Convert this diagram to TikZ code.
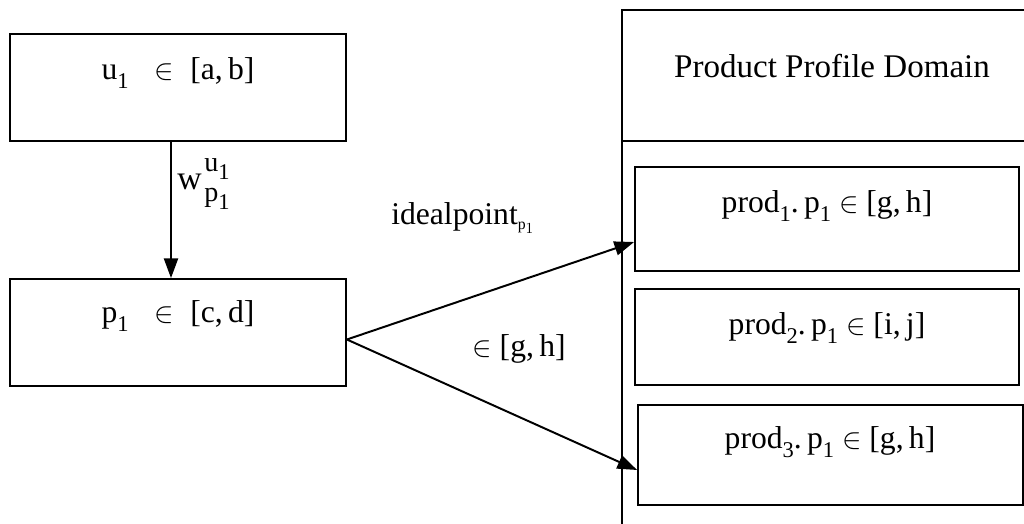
\documentclass[tikz,border=0pt]{standalone}
\usepackage{fontspec}
\setmainfont{Liberation Serif}
\usetikzlibrary{arrows.meta}
% lowered index set a little larger than \textsubscript
\newcommand{\idx}[1]{\raisebox{-0.28em}{\fontsize{16}{18}\selectfont #1}}
\begin{document}
\begin{tikzpicture}[x=0.025cm,y=-0.025cm,
  box/.style={draw,line width=1.3pt,minimum width=#1*0.025cm,inner sep=0pt},
  lbl/.style={inner sep=0pt,font=\fontsize{22.5}{26}\selectfont},
  small/.style={inner sep=0pt,anchor=base west,font=\fontsize{20}{22}\selectfont},
  conn/.style={line width=1.4pt,-{Triangle[length=14pt,width=10pt]}}]
\useasboundingbox (0,0) rectangle (1024,524);
\clip (0,0) rectangle (1024,524);

% left column
\node[box=336,minimum height=107*0.025cm] (ubox) at (178,87.5) {};
\node[lbl] (utext) at (178,73) {u\idx{1}\;\; $\in$ \;[a,\,b]};
\node[box=336,minimum height=107*0.025cm] (pbox) at (178,332.5) {};
\node[lbl] (ptext) at (178,316) {p\idx{1}\;\; $\in$ \;[c,\,d]};
\draw[conn] (ubox.south -| 171,0) -- (pbox.north -| 171,0);
% weight label: w with u1 above and p1 below
\node[lbl,anchor=base west,font=\fontsize{24}{26}\selectfont] (wlabel) at (177,190) {w};
\node[small] (wsup) at (204,172) {u\idx{1}};
\node[small] (wsub) at (204,202) {p\idx{1}};

% product profile domain panel
\node[draw,line width=1.3pt,anchor=north west,minimum width=420*0.025cm,minimum height=530*0.025cm,inner sep=0pt] (domain) at (621,9) {};
\coordinate (divL) at (621,141);
\coordinate (divR) at (1030,141);
\draw[line width=1.3pt] (divL) -- (divR);
\node[lbl,font=\fontsize{23.5}{27}\selectfont] (dtitle) at (832,66) {Product Profile Domain};

\node[box=384,minimum height=104*0.025cm] (prod1) at (827,219) {};
\node[lbl] (t1) at (827,206) {prod\idx{1}.\,p\idx{1} $\in$ [g,\,h]};
\node[box=384,minimum height=96*0.025cm] (prod2) at (827,337) {};
\node[lbl] (t2) at (827,328) {prod\idx{2}.\,p\idx{1} $\in$ [i,\,j]};
\node[box=385,minimum height=100*0.025cm] (prod3) at (830.5,455) {};
\node[lbl] (t3) at (830,442) {prod\idx{3}.\,p\idx{1} $\in$ [g,\,h]};

% links from p1 to the products
\coordinate (pout) at ([yshift=-0.175cm]pbox.east);
\draw[conn] (pout) -- ([yshift=-0.575cm]prod1.west);
\draw[conn] (pout) -- ([yshift=-0.375cm]prod3.west);
\node[lbl,anchor=base west] (ideal) at (391,225) {idealpoint$_{\scriptscriptstyle\mathrm{p}_1}$};
\node[lbl] (range) at (519,349) {$\in$ [g,\,h]};
\end{tikzpicture}
\end{document}
